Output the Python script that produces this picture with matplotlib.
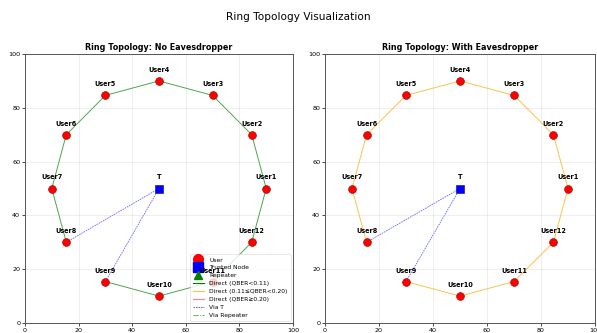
import matplotlib
matplotlib.use('Agg')
import matplotlib.pyplot as plt
from matplotlib.lines import Line2D

# node positions
users = ['User1', 'User2', 'User3', 'User4', 'User5', 'User6',
         'User7', 'User8', 'User9', 'User10', 'User11', 'User12']
user_x = [90, 84.6, 70, 50, 30, 15.4, 10, 15.4, 30, 50, 70, 84.6]
user_y = [50, 70, 84.6, 90, 84.6, 70, 50, 30, 15.4, 10, 15.4, 30]
trusted_x = [50]
trusted_y = [50]
trusted_names = ['T']

# ring links (index pairs), User8-User9 goes through T instead
direct_links = [(0, 1), (1, 2), (2, 3), (3, 4), (4, 5), (5, 6), (6, 7),
                (8, 9), (9, 10), (10, 11), (11, 0)]
via_t_users = [7, 8]

panel_titles = ['Ring Topology: No Eavesdropper', 'Ring Topology: With Eavesdropper']
panel_colors = ['green', 'orange']

fig = plt.figure(figsize=(5.97, 3.33), dpi=100)
fig.suptitle('Ring Topology Visualization', fontsize=7.6, x=0.5, y=0.965)

W, H = 597.0, 333.0
boxes = [(25, 54, 268, 269), (325, 54, 270, 269)]

for k in range(2):
    x0, y0, w, h = boxes[k]
    ax = fig.add_axes([x0 / W, 1 - (y0 + h) / H, w / W, h / H])
    col = panel_colors[k]
    for a, b in direct_links:
        ax.plot([user_x[a], user_x[b]], [user_y[a], user_y[b]], color=col,
                alpha=0.7, linewidth=0.7, zorder=1)
    for u in via_t_users:
        ax.plot([user_x[u], trusted_x[0]], [user_y[u], trusted_y[0]], color='blue',
                linestyle='--', alpha=0.6, linewidth=0.6, dashes=(2, 1), zorder=1)
    ax.scatter(user_x, user_y, s=32, c='red', edgecolors='darkred', linewidths=0.4, zorder=3)
    ax.scatter(trusted_x, trusted_y, s=32, c='blue', marker='s', edgecolors='darkblue',
               linewidths=0.4, zorder=3)
    for i in range(len(users)):
        ax.text(user_x[i], user_y[i] + 3, users[i], ha='center', va='bottom',
                fontsize=4.7, fontweight='bold', zorder=6)
    ax.text(trusted_x[0], trusted_y[0] + 3, trusted_names[0], ha='center', va='bottom',
            fontsize=4.7, fontweight='bold', zorder=6)
    ax.set_xlim(0, 100)
    ax.set_ylim(0, 100)
    ax.grid(True, alpha=0.3, linewidth=0.5)
    ax.tick_params(labelsize=4.6, length=2, width=0.5, pad=1.5)
    for sp in ax.spines.values():
        sp.set_linewidth(0.7)
        sp.set_color('#555555')
    ax.set_title(panel_titles[k], fontsize=5.8, fontweight='bold', pad=3)

    if k == 0:
        handles = [
            Line2D([], [], marker='o', color='none', markerfacecolor='red',
                   markeredgecolor='red', markersize=7, label='User'),
            Line2D([], [], marker='s', color='none', markerfacecolor='blue',
                   markeredgecolor='blue', markersize=7, label='Trusted Node'),
            Line2D([], [], marker='^', color='none', markerfacecolor='green',
                   markeredgecolor='green', markersize=6, label='Repeater'),
            Line2D([], [], color='green', linewidth=0.8, label='Direct (QBER<0.11)'),
            Line2D([], [], color='orange', linewidth=0.8, alpha=0.7,
                   label='Direct (0.11≤QBER<0.20)'),
            Line2D([], [], color='red', linewidth=0.8, alpha=0.5, label='Direct (QBER≥0.20)'),
            Line2D([], [], color='blue', linewidth=0.6, linestyle='--', alpha=0.7,
                   dashes=(2, 1), label='Via T'),
            Line2D([], [], color='green', linewidth=0.6, linestyle='-.', alpha=0.7,
                   label='Via Repeater'),
        ]
        leg = ax.legend(handles=handles, loc='lower right', fontsize=4.3,
                        labelspacing=0.45, handlelength=2.0, borderpad=0.5,
                        handletextpad=0.8, framealpha=0.8, fancybox=True,
                        borderaxespad=0.4)
        leg.get_frame().set_linewidth(0.4)

fig.savefig('out.png', dpi=100)
